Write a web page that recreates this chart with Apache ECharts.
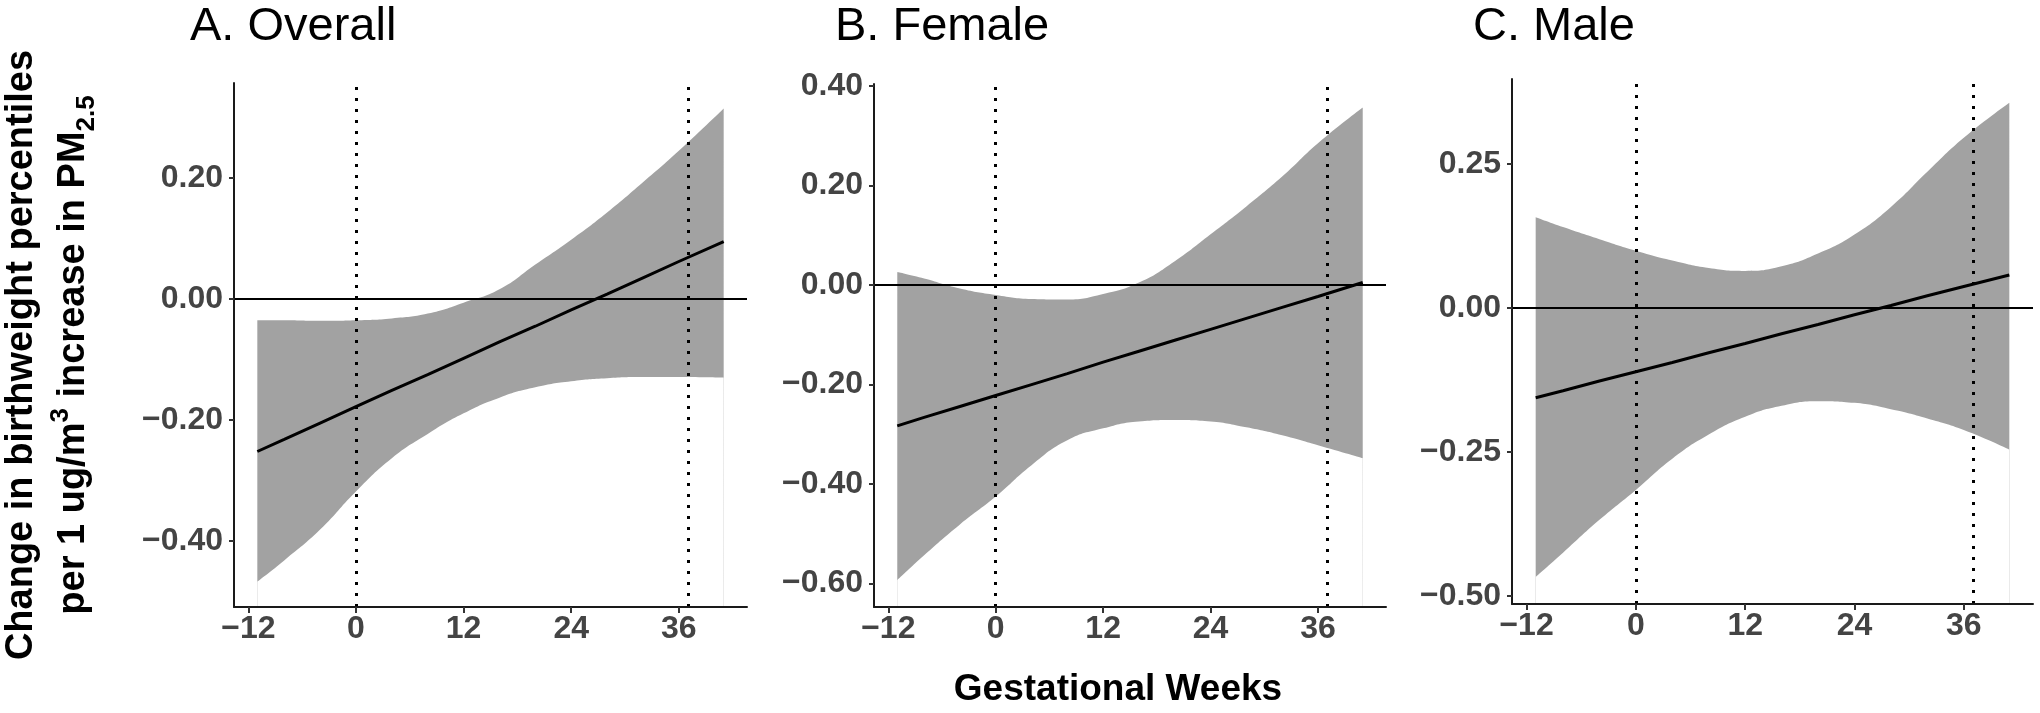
<!DOCTYPE html>
<html>
<head>
<meta charset="utf-8">
<script src="https://cdn.jsdelivr.net/npm/echarts@6/dist/echarts.min.js"></script>
<style>
html,body{margin:0;padding:0;background:#fff;}
#chart{width:2040px;height:713px;}
</style>
</head>
<body>
<div id="chart"></div>
<script>
// ---- data ----
const weeks = [-11, -8, -4, 0, 4, 8, 12, 16, 20, 24, 28, 32, 36, 41];

const overallFit   = [-0.252, -0.232, -0.205, -0.178, -0.151, -0.125, -0.098, -0.071, -0.045, -0.018, 0.008, 0.035, 0.062, 0.095];
const overallUpper = [-0.035, -0.035, -0.036, -0.035, -0.032, -0.024, -0.006, 0.016, 0.057, 0.098, 0.143, 0.193, 0.245, 0.315];
const overallLower = [-0.467, -0.432, -0.381, -0.318, -0.263, -0.223, -0.189, -0.163, -0.146, -0.136, -0.131, -0.129, -0.129, -0.130];

const femaleFit   = [-0.283, -0.266, -0.244, -0.222, -0.200, -0.178, -0.155, -0.133, -0.111, -0.089, -0.067, -0.045, -0.023, 0.005];
const femaleUpper = [0.026, 0.013, -0.007, -0.020, -0.028, -0.029, -0.018, 0.005, 0.048, 0.102, 0.158, 0.218, 0.285, 0.357];
const femaleLower = [-0.593, -0.543, -0.481, -0.425, -0.362, -0.312, -0.288, -0.274, -0.271, -0.274, -0.286, -0.302, -0.322, -0.348];

const maleFit   = [-0.156, -0.144, -0.127, -0.111, -0.095, -0.078, -0.062, -0.045, -0.029, -0.012, 0.004, 0.021, 0.037, 0.057];
const maleUpper = [0.157, 0.140, 0.119, 0.099, 0.082, 0.069, 0.064, 0.072, 0.094, 0.127, 0.175, 0.236, 0.295, 0.356];
const maleLower = [-0.467, -0.425, -0.368, -0.316, -0.262, -0.220, -0.189, -0.170, -0.162, -0.165, -0.176, -0.192, -0.212, -0.246];

const panelTitles = ['A. Overall', 'B. Female', 'C. Male'];
const xTicks = [-12, 0, 12, 24, 36];
const yTicksA = [-0.4, -0.2, 0, 0.2];
const yTicksB = [-0.6, -0.4, -0.2, 0, 0.2, 0.4];
const yTicksC = [-0.5, -0.25, 0, 0.25];
const refWeeks = [0, 37];
const xTitle = 'Gestational Weeks';
const yTitle1 = 'Change in birthweight percentiles';

// ---- layout / style ----
const FONT = "'Liberation Sans', Arial, Helvetica, sans-serif";
const grids = [
  {left: 234, top: 83, width: 513, height: 524},
  {left: 874, top: 84, width: 512, height: 523},
  {left: 1512, top: 79, width: 521, height: 525}
];
const yRanges = [[-0.509, 0.357], [-0.647, 0.404], [-0.514, 0.397]];
const yTickSets = [yTicksA, yTicksB, yTicksC];
const titleX = [190, 835, 1473];
const panels = [
  [overallFit, overallUpper, overallLower],
  [femaleFit, femaleUpper, femaleLower],
  [maleFit, maleUpper, maleLower]
];
const BAND = '#a2a2a2';
const SMOOTH = 0.5;

function minus(s){ return String(s).replace('-', '\u2212'); }

const xAxes = [], yAxes = [], series = [], gridOpts = [];
grids.forEach((g, i) => {
  gridOpts.push(Object.assign({outerBoundsMode: 'none', containLabel: false}, g));
  xAxes.push({
    type: 'value', gridIndex: i, min: -13.6, max: 43.6, z: 10,
    axisLine: {show: true, onZero: false, lineStyle: {color: '#1a1a1a', width: 2}},
    axisTick: {show: true, length: 6, customValues: xTicks, lineStyle: {color: '#333', width: 2}},
    axisLabel: {customValues: xTicks, margin: 6, fontSize: 32, fontWeight: 'bold', color: '#444', fontFamily: FONT,
      formatter: v => minus(v)},
    splitLine: {show: false}
  });
  yAxes.push({
    type: 'value', gridIndex: i, min: yRanges[i][0], max: yRanges[i][1], z: 10,
    axisLine: {show: true, onZero: false, lineStyle: {color: '#1a1a1a', width: 2}},
    axisTick: {show: true, length: 5, customValues: yTickSets[i], lineStyle: {color: '#333', width: 2}},
    axisLabel: {customValues: yTickSets[i], margin: 11, fontSize: 32, fontWeight: 'bold', color: '#444', fontFamily: FONT,
      formatter: v => minus(Number(v).toFixed(2))},
    splitLine: {show: false}
  });
  const [fit, up, lo] = panels[i];
  // upper bound: grey fill down to the axis start
  series.push({
    type: 'line', xAxisIndex: i, yAxisIndex: i,
    data: weeks.map((w, k) => [w, up[k]]), smooth: SMOOTH, symbol: 'none', silent: true,
    lineStyle: {width: 0, opacity: 0}, areaStyle: {color: BAND, opacity: 1, origin: 'start'}, z: 1
  });
  // lower bound: white fill down to the axis start (masks below the band)
  series.push({
    type: 'line', xAxisIndex: i, yAxisIndex: i,
    data: weeks.map((w, k) => [w, lo[k]]), smooth: SMOOTH, symbol: 'none', silent: true,
    lineStyle: {width: 0, opacity: 0}, areaStyle: {color: '#ffffff', opacity: 1, origin: 'start'}, z: 2
  });
  series.push({
    type: 'line', xAxisIndex: i, yAxisIndex: i,
    data: weeks.map((w, k) => [w, fit[k]]), symbol: 'none', silent: true,
    lineStyle: {color: '#000', width: 3}, z: 4,
    markLine: {
      silent: true, symbol: ['none', 'none'], label: {show: false}, animation: false,
      data: [
        {yAxis: 0, lineStyle: {type: 'solid', color: '#000', width: 2}},
        ...refWeeks.map(w => ({xAxis: w, lineStyle: {type: [3, 8], color: '#000', width: 3}}))
      ]
    }
  });
});

const graphics = panelTitles.map((t, i) => ({
  type: 'text', x: titleX[i], y: 27,
  style: {text: t, fontSize: 47, fontFamily: FONT, fill: '#000', align: 'left', verticalAlign: 'middle'}
}));
graphics.push({
  type: 'text', x: 1118, y: 690,
  style: {text: xTitle, fontSize: 37, fontWeight: 'bold', fontFamily: FONT, fill: '#000', align: 'center', verticalAlign: 'middle'}
});
graphics.push({
  type: 'text', x: 48, y: 355, rotation: Math.PI / 2,
  style: {
    text: '{t|' + yTitle1 + '}\n{t|per 1 ug/m}{sup|3}{t| increase in PM}{sub|2.5}',
    align: 'center', verticalAlign: 'middle', fill: '#000',
    rich: {
      t: {fontSize: 38, fontWeight: 'bold', fontFamily: FONT, fill: '#000', lineHeight: 52},
      sup: {fontSize: 26, fontWeight: 'bold', fontFamily: FONT, fill: '#000', lineHeight: 30, verticalAlign: 'top'},
      sub: {fontSize: 26, fontWeight: 'bold', fontFamily: FONT, fill: '#000', lineHeight: 30, verticalAlign: 'bottom'}
    }
  }
});

const chart = echarts.init(document.getElementById('chart'));
chart.setOption({
  animation: false,
  backgroundColor: '#fff',
  grid: gridOpts,
  xAxis: xAxes,
  yAxis: yAxes,
  series: series,
  graphic: graphics
});
</script>
</body>
</html>
